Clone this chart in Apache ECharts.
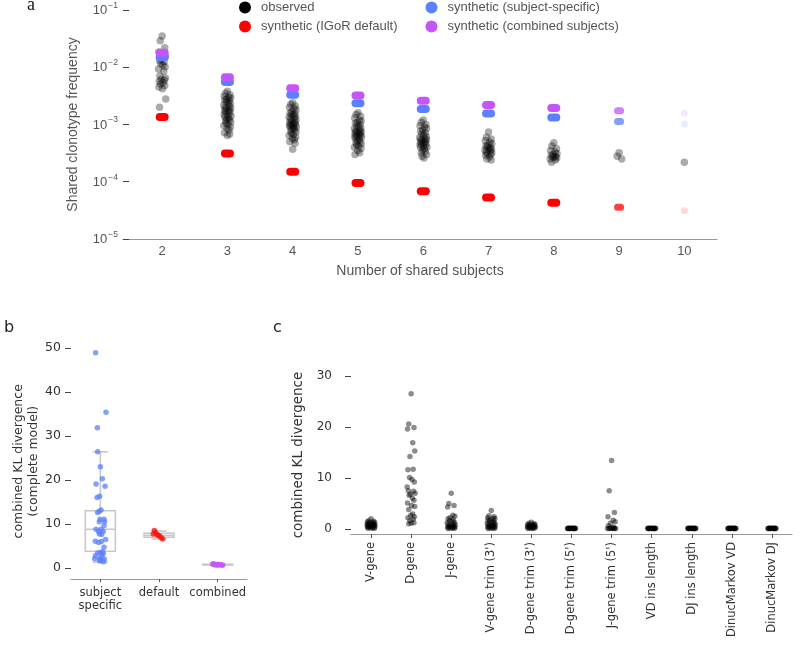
<!DOCTYPE html>
<html><head><meta charset="utf-8">
<script src="https://cdn.jsdelivr.net/npm/echarts@6/dist/echarts.min.js"></script>
<style>html,body{margin:0;padding:0;background:#fff}#c{width:800px;height:647px}</style>
</head><body><div id="c"></div>
<script>
// ---------- Panel a data (frequencies in units of 1e-3) ----------
const SUBJECTS = [2, 3, 4, 5, 6, 7, 8, 9, 10];
const SYN_DEFAULT  = [1.35, 0.31, 0.15, 0.095, 0.068, 0.053, 0.043, 0.036, 0.031];
const SYN_SUBJECT  = [15.0, 5.5, 3.3, 2.35, 1.86, 1.55, 1.32, 1.13, 1.02];
const SYN_COMBINED = [18.0, 6.7, 4.3, 3.2, 2.6, 2.2, 1.94, 1.74, 1.58];
const OBS_2 = [35, 29, 22, 18.5, 17, 15.5, 14, 13, 12.5, 11.5, 11, 10.2, 9.3, 8.5, 7, 6.5, 6.2, 6, 5.7, 5.4, 5.1, 4.8, 4.5, 4.2, 2.8, 2.0];
const OBS_3 = [3.8, 3.5, 3.3, 3.1, 3.0, 2.9, 2.8, 2.7, 2.6, 2.5, 2.4, 2.3, 2.2, 2.1, 2.0, 1.95, 1.9, 1.8, 1.75, 1.7, 1.65, 1.6, 1.5, 1.45, 1.4, 1.35, 1.3, 1.25, 1.2, 1.15, 1.1, 1.05, 1.0, 0.95, 0.9, 0.85, 0.8, 0.72, 0.68, 0.64];
const OBS_4 = [2.4, 2.25, 2.1, 2.0, 1.9, 1.8, 1.7, 1.6, 1.55, 1.5, 1.45, 1.4, 1.35, 1.3, 1.25, 1.2, 1.15, 1.1, 1.1, 1.05, 1.0, 1.0, 0.97, 0.94, 0.9, 0.9, 0.87, 0.84, 0.8, 0.77, 0.74, 0.7, 0.67, 0.64, 0.6, 0.57, 0.54, 0.5, 0.47, 0.37];
const OBS_5 = [1.6, 1.5, 1.4, 1.3, 1.2, 1.15, 1.1, 1.05, 1.0, 0.95, 0.9, 0.87, 0.84, 0.8, 0.77, 0.75, 0.74, 0.71, 0.7, 0.68, 0.65, 0.65, 0.62, 0.6, 0.6, 0.57, 0.55, 0.52, 0.5, 0.48, 0.46, 0.44, 0.42, 0.4, 0.38, 0.35, 0.32, 0.3];
const OBS_6 = [1.2, 1.1, 1.0, 0.95, 0.9, 0.85, 0.8, 0.76, 0.72, 0.68, 0.65, 0.62, 0.59, 0.56, 0.55, 0.54, 0.52, 0.5, 0.5, 0.48, 0.46, 0.45, 0.44, 0.42, 0.4, 0.4, 0.38, 0.36, 0.34, 0.32, 0.3, 0.28, 0.26];
const OBS_7 = [0.74, 0.6, 0.56, 0.52, 0.49, 0.46, 0.44, 0.42, 0.4, 0.4, 0.38, 0.37, 0.36, 0.35, 0.33, 0.32, 0.31, 0.3, 0.29, 0.27, 0.25, 0.24];
const OBS_8 = [0.48, 0.42, 0.38, 0.35, 0.33, 0.31, 0.3, 0.29, 0.28, 0.27, 0.27, 0.26, 0.25, 0.24, 0.22];
const OBS_9 = [0.32, 0.28, 0.25];
const OBS_10 = [0.22];

// ---------- Panel b data ----------
const B_CATS = ['subject\nspecific', 'default', 'combined'];
const B_SUBJECT = [48.9, 35.4, 31.9, 26.4, 23.0, 20.3, 19.1, 18.6, 16.0, 16.3, 12.6, 12.9, 13.2, 11.1, 11.1, 10.5, 10.5, 9.6, 8.8, 8.8, 8.3, 8.3, 7.7, 7.6, 6.5, 6.1, 5.8, 6.0, 4.7, 3.7, 3.5, 3.4, 3.3, 2.8, 2.6, 2.3, 2.1, 2.0, 1.8, 1.4, 1.6];
const B_DEFAULT = [8.5, 8.1, 7.7, 7.6, 7.3, 6.9, 6.6, 7.4];
const B_COMBINED = [0.9, 0.7, 0.8, 0.6, 0.85, 0.75, 0.65, 0.95, 0.7];
// box stats: [low whisker, Q1, median, Q3, high whisker]
const B_BOXES = [[1.3, 3.8, 8.8, 13.0, 26.4], [6.6, 7.0, 7.4, 7.9, 8.4], [0.55, 0.7, 0.76, 0.85, 1.0]];
const B_TICKS = [0, 10, 20, 30, 40, 50];

// ---------- Panel c data ----------
const C_CATS = ['V-gene', 'D-gene', 'J-gene', "V-gene trim (3')", "D-gene trim (3')", "D-gene trim (5')", "J-gene trim (5')", 'VD ins length', 'DJ ins length', 'DinucMarkov VD', 'DinucMarkov DJ'];
const C_VGENE  = [2.0, 1.6, 1.5, 1.4, 1.3, 1.25, 1.2, 1.1, 1.0, 1.0, 0.9, 0.9, 0.8, 0.8, 0.7, 0.7, 0.6, 0.6, 0.5, 0.5, 0.4, 0.4, 0.3, 0.3, 0.2, 0.2, 0.1, 0.15];
const C_DGENE  = [26.5, 20.6, 19.9, 19.6, 16.9, 15.3, 14.2, 11.6, 11.7, 10.1, 9.7, 9.2, 8.2, 7.4, 7.5, 7.0, 6.8, 6.0, 6.6, 5.6, 5.1, 4.6, 4.4, 3.8, 2.9, 2.7, 2.4, 2.2, 1.9, 1.6, 1.1, 1.0, 1.2];
const C_JGENE  = [7.0, 5.0, 4.6, 4.3, 2.7, 2.5, 2.2, 2.0, 1.8, 1.6, 1.5, 1.3, 1.2, 1.0, 0.9, 0.8, 0.7, 0.6, 0.5, 0.45, 0.4, 0.35, 0.3, 0.25, 0.2, 0.15, 0.1, 0.1];
const C_VTRIM3 = [3.6, 2.6, 2.4, 2.2, 2.1, 2.0, 1.8, 1.7, 1.5, 1.4, 1.3, 1.2, 1.1, 1.0, 0.9, 0.8, 0.7, 0.6, 0.5, 0.45, 0.4, 0.35, 0.3, 0.25, 0.2, 0.15, 0.1, 0.1];
const C_DTRIM3 = [1.3, 1.1, 1.0, 0.9, 0.85, 0.8, 0.7, 0.65, 0.6, 0.55, 0.5, 0.45, 0.4, 0.35, 0.3, 0.3, 0.25, 0.2, 0.2, 0.15, 0.1, 0.1];
const C_DTRIM5 = [0.15, 0.12, 0.1, 0.1, 0.08, 0.12, 0.1, 0.15, 0.1, 0.08, 0.12, 0.1, 0.1, 0.12, 0.08, 0.1, 0.12, 0.1];
const C_JTRIM5 = [13.4, 7.5, 3.2, 2.4, 1.7, 1.4, 1.1, 0.6, 0.3, 0.15, 0.12, 0.1, 0.1, 0.12, 0.08, 0.1, 0.12, 0.1];
const C_VDINS  = [0.12, 0.1, 0.1, 0.08, 0.12, 0.1, 0.15, 0.1, 0.08, 0.12, 0.1, 0.1, 0.12, 0.08, 0.1, 0.12, 0.1, 0.1];
const C_DJINS  = [0.12, 0.1, 0.1, 0.08, 0.12, 0.1, 0.15, 0.1, 0.08, 0.12, 0.1, 0.1, 0.12, 0.08, 0.1, 0.12, 0.1, 0.1];
const C_DMVD   = [0.15, 0.12, 0.1, 0.1, 0.08, 0.12, 0.1, 0.15, 0.1, 0.08, 0.12, 0.1, 0.1, 0.12, 0.08, 0.1, 0.12, 0.1];
const C_DMDJ   = [0.15, 0.12, 0.1, 0.1, 0.08, 0.12, 0.1, 0.15, 0.1, 0.08, 0.12, 0.1, 0.1, 0.12, 0.08, 0.1, 0.12, 0.1];
const C_TICKS = [0, 10, 20, 30];

// ---------- display jitter (hand-picked offsets, not data) ----------
const JITTER_A = [0.00,-0.03,0.04,-0.05,0.02,0.05,-0.01,-0.04,0.03,-0.02,0.01,0.045,-0.055,0.025,-0.035,0.05,-0.015,0.035,-0.045,0.015,-0.025,0.04,-0.05,0.005,0.055,-0.04,0.02,-0.01,0.03,-0.03,0.05,-0.02,0.01,-0.055,0.045,-0.005,0.025,-0.045,0.035,0.0,-0.035,0.04,-0.025,0.015,-0.015];
const JITTER_B_SUBJ = [-0.08,0.097,-0.051,-0.046,0,0.034,-0.073,0.08,-0.056,-0.012,-0.046,-0.017,0.012,-0.005,0.063,-0.017,0.073,0.063,-0.073,0.012,-0.029,0.051,-0.017,0.022,0.09,-0.085,-0.029,0.017,0.063,0.034,0,-0.046,0.051,-0.085,0.029,-0.005,-0.097,0.068,-0.017,0.056,0];
const JITTER_B_DEF = [-0.08,-0.063,-0.097,-0.034,0.012,0.039,0.063,-0.012];
const JITTER_B_COMB = [-0.085,-0.051,-0.017,0,0.017,0.051,0.085,-0.068,0.068];
const JITTER_C = [0.0,-0.06,0.07,-0.09,0.04,0.09,-0.03,-0.08,0.05,-0.04,0.02,0.08,-0.1,0.06,-0.07,0.1,-0.02,0.03,-0.05,0.07,-0.09,0.01,0.09,-0.06,0.04,-0.01,0.08,-0.08,0.05,-0.03];

// ---------- build ----------
const RED = '#ff0000', BLUE = '#5b80ff', PURPLE = '#c455fa';
const SANS_A = 'Liberation Sans, Arial, sans-serif';
const SANS_B = 'DejaVu Sans, sans-serif';
const OBS = [OBS_2, OBS_3, OBS_4, OBS_5, OBS_6, OBS_7, OBS_8, OBS_9, OBS_10];
const obsData = [];
OBS.forEach((arr, ki) => arr.forEach((v, i) => obsData.push([SUBJECTS[ki] + JITTER_A[i % JITTER_A.length], v * 1e-3])));
const PILL = 'path://M4,0 H9 A4,4 0 0 1 9,8 H4 A4,4 0 0 1 4,0 Z';
function synData(arr) {
  return arr.map((v, i) => {
    const k = SUBJECTS[i];
    const op = k <= 8 ? 1 : (k === 9 ? 0.75 : 0.15);
    return {value: [k, v * 1e-3], symbol: k === 10 ? 'circle' : PILL,
      symbolSize: k === 10 ? [7, 7] : (k === 9 ? [10, 7] : [13, 8]), itemStyle: {opacity: op}};
  });
}
const bScatter = (arr, jit, idx) => arr.map((v, i) => [idx + jit[i % jit.length], v]);
const C_ALL = [C_VGENE, C_DGENE, C_JGENE, C_VTRIM3, C_DTRIM3, C_DTRIM5, C_JTRIM5, C_VDINS, C_DJINS, C_DMVD, C_DMDJ];
const cData = [];
C_ALL.forEach((arr, ci) => arr.forEach((v, i) => cData.push([ci + JITTER_C[i % JITTER_C.length], v])));

const chart = echarts.init(document.getElementById('c'), null, {renderer: 'canvas'});
const legendText = {fontFamily: SANS_A, fontSize: 13, color: '#555'};
const option = {
  animation: false,
  backgroundColor: '#fff',
  graphic: [
    {type: 'text', left: 27, top: -4, style: {text: 'a', font: '18px "Liberation Serif", serif', fill: '#111'}},
    {type: 'text', left: 4, top: 320, style: {text: 'b', font: '16px "DejaVu Sans", sans-serif', fill: '#222'}},
    {type: 'text', left: 273, top: 320, style: {text: 'c', font: '16px "DejaVu Sans", sans-serif', fill: '#222'}}
  ],
  legend: [
    {data: [{name: 'observed', itemStyle: {color: '#000', opacity: 1}}, {name: 'synthetic (IGoR default)', itemStyle: {color: RED, opacity: 1}}],
      orient: 'vertical', left: 239, top: 1, padding: 0, itemWidth: 22, itemHeight: 12, itemGap: 6, icon: 'circle', textStyle: legendText},
    {data: [{name: 'synthetic (subject-specific)', itemStyle: {color: BLUE, opacity: 1}}, {name: 'synthetic (combined subjects)', itemStyle: {color: PURPLE, opacity: 1}}],
      orient: 'vertical', left: 425.5, top: 1, padding: 0, itemWidth: 22, itemHeight: 12, itemGap: 6, icon: 'circle', textStyle: legendText}
  ],
  grid: [
    {left: 123, top: 10, width: 594, height: 229},
    {left: 71, top: 343.6, width: 176, height: 235.4},
    {left: 351, top: 376, width: 441, height: 158}
  ],
  xAxis: [
    {gridIndex: 0, type: 'value', min: 1.4, max: 10.5,
      name: 'Number of shared subjects', nameLocation: 'middle', nameGap: 25,
      nameTextStyle: {fontFamily: SANS_A, fontSize: 14, color: '#555'},
      axisLine: {show: true, onZero: false, lineStyle: {color: '#999', width: 1.2}},
      axisTick: {show: false},
      axisLabel: {customValues: SUBJECTS, fontFamily: SANS_A, fontSize: 13, color: '#555', margin: 6},
      splitLine: {show: false}},
    {gridIndex: 1, type: 'category', data: B_CATS, boundaryGap: true,
      axisLine: {show: true, onZero: false, lineStyle: {color: '#999', width: 1.2}},
      axisTick: {show: true, alignWithLabel: true, length: 3, lineStyle: {color: '#555'}},
      axisLabel: {interval: 0, fontFamily: SANS_B, fontSize: 11.5, color: '#333', margin: 8, lineHeight: 13}},
    {gridIndex: 1, type: 'value', min: -0.5, max: 2.5, show: false},
    {gridIndex: 2, type: 'category', data: C_CATS, boundaryGap: true,
      axisLine: {show: true, onZero: false, lineStyle: {color: '#999', width: 1.2}},
      axisTick: {show: true, alignWithLabel: true, length: 4, lineStyle: {color: '#555'}},
      axisLabel: {rotate: 90, interval: 0, fontFamily: SANS_B, fontSize: 11.5, color: '#333', margin: 8}},
    {gridIndex: 2, type: 'value', min: -0.5, max: 10.5, show: false}
  ],
  yAxis: [
    {gridIndex: 0, type: 'log', logBase: 10, min: 1e-5, max: 1e-1,
      name: 'Shared clonotype frequency', nameLocation: 'middle', nameGap: 43,
      nameTextStyle: {fontFamily: SANS_A, fontSize: 14, color: '#555'},
      axisLine: {show: false, onZero: false},
      axisTick: {show: true, inside: true, length: 6, lineStyle: {color: '#444'}},
      axisLabel: {margin: 5, formatter: v => {
          const e = Math.round(Math.log10(v));
          return '{b|10}{s|' + (e < 0 ? '−' : '') + Math.abs(e) + '}';
        },
        rich: {b: {fontFamily: SANS_A, fontSize: 13, color: '#555', lineHeight: 14, verticalAlign: 'bottom'},
               s: {fontFamily: SANS_A, fontSize: 8.5, color: '#555', lineHeight: 10, padding: [0, 0, 7, 1], verticalAlign: 'bottom'}}},
      splitLine: {show: false}},
    {gridIndex: 1, type: 'value', min: -2.5, max: 51,
      name: 'combined KL divergence\n(complete model)', nameLocation: 'middle', nameGap: 30,
      nameTextStyle: {fontFamily: SANS_B, fontSize: 12.5, color: '#333', lineHeight: 15},
      axisLine: {show: false, onZero: false},
      axisTick: {show: true, length: 6, customValues: B_TICKS, lineStyle: {color: '#444'}},
      axisLabel: {customValues: B_TICKS, fontFamily: SANS_B, fontSize: 12.5, color: '#333', margin: 10},
      splitLine: {show: false}},
    {gridIndex: 2, type: 'value', min: -1, max: 30,
      name: 'combined KL divergence', nameLocation: 'middle', nameGap: 37,
      nameTextStyle: {fontFamily: SANS_B, fontSize: 13.5, color: '#333'},
      axisLine: {show: false, onZero: false},
      axisTick: {show: true, length: 6, customValues: C_TICKS, lineStyle: {color: '#444'}},
      axisLabel: {customValues: C_TICKS, fontFamily: SANS_B, fontSize: 12, color: '#333', margin: 19},
      splitLine: {show: false}}
  ],
  series: [
    {name: 'observed', type: 'scatter', xAxisIndex: 0, yAxisIndex: 0, data: obsData,
      symbolSize: 7.5, itemStyle: {color: '#000', opacity: 0.33}},
    {name: 'synthetic (IGoR default)', type: 'scatter', xAxisIndex: 0, yAxisIndex: 0, data: synData(SYN_DEFAULT),
      symbolKeepAspect: false, itemStyle: {color: RED}},
    {name: 'synthetic (subject-specific)', type: 'scatter', xAxisIndex: 0, yAxisIndex: 0, data: synData(SYN_SUBJECT),
      symbolKeepAspect: false, itemStyle: {color: BLUE}},
    {name: 'synthetic (combined subjects)', type: 'scatter', xAxisIndex: 0, yAxisIndex: 0, data: synData(SYN_COMBINED),
      symbolKeepAspect: false, itemStyle: {color: PURPLE}},
    {name: 'boxes', type: 'custom', xAxisIndex: 2, yAxisIndex: 1,
      data: B_BOXES.map((b, i) => [i].concat(b)),
      renderItem: (params, api) => {
        const x = api.value(0);
        const lo = api.coord([x, api.value(1)]), q1 = api.coord([x, api.value(2)]), md = api.coord([x, api.value(3)]),
              q3 = api.coord([x, api.value(4)]), hi = api.coord([x, api.value(5)]);
        const w = 30, cx = lo[0], st = {stroke: '#c8c8c8', lineWidth: 1.6, fill: null};
        return {type: 'group', children: [
          {type: 'line', shape: {x1: cx, y1: hi[1], x2: cx, y2: q3[1]}, style: st},
          {type: 'line', shape: {x1: cx, y1: q1[1], x2: cx, y2: lo[1]}, style: st},
          {type: 'line', shape: {x1: cx - w / 4, y1: hi[1], x2: cx + w / 4, y2: hi[1]}, style: st},
          {type: 'line', shape: {x1: cx - w / 4, y1: lo[1], x2: cx + w / 4, y2: lo[1]}, style: st},
          {type: 'rect', shape: {x: cx - w / 2, y: q3[1], width: w, height: q1[1] - q3[1]}, style: {stroke: '#c8c8c8', lineWidth: 1.6, fill: '#fff'}},
          {type: 'line', shape: {x1: cx - w / 2, y1: md[1], x2: cx + w / 2, y2: md[1]}, style: st}
        ]};
      }},
    {name: 'b subject', type: 'scatter', xAxisIndex: 2, yAxisIndex: 1, data: bScatter(B_SUBJECT, JITTER_B_SUBJ, 0),
      symbolSize: 5.5, itemStyle: {color: '#5b80ff', opacity: 0.75}},
    {name: 'b default', type: 'scatter', xAxisIndex: 2, yAxisIndex: 1, data: bScatter(B_DEFAULT, JITTER_B_DEF, 1),
      symbolSize: 5.5, itemStyle: {color: '#ff1010', opacity: 0.75}},
    {name: 'b combined', type: 'scatter', xAxisIndex: 2, yAxisIndex: 1, data: bScatter(B_COMBINED, JITTER_B_COMB, 2),
      symbolSize: 5.5, itemStyle: {color: '#c455fa', opacity: 0.8}},
    {name: 'c points', type: 'scatter', xAxisIndex: 4, yAxisIndex: 2, data: cData,
      symbolSize: 5.5, itemStyle: {color: '#000', opacity: 0.45}}
  ]
};
chart.setOption(option);
</script></body></html>
